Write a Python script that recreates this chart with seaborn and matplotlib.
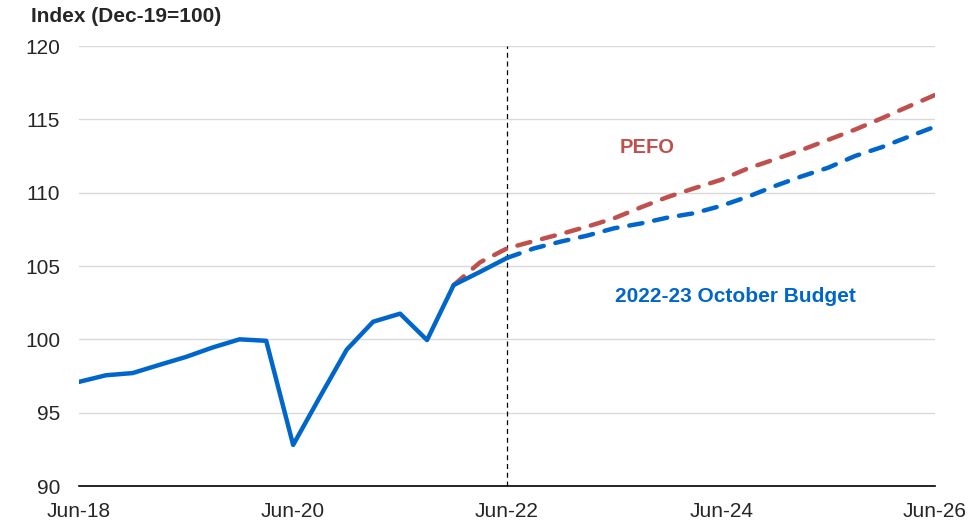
import pandas as pd
import numpy as np
import matplotlib
matplotlib.use("Agg")
import matplotlib.pyplot as plt
import seaborn as sns

# actuals, quarterly Jun-18 .. Jun-22
actual_dates = ["2018-06", "2018-09", "2018-12", "2019-03", "2019-06", "2019-09", "2019-12",
                "2020-03", "2020-06", "2020-09", "2020-12", "2021-03", "2021-06", "2021-09",
                "2021-12", "2022-03", "2022-06"]
actual_vals = [97.1, 97.55, 97.7, 98.25, 98.8, 99.45, 100.0,
               99.9, 92.8, 96.1, 99.3, 101.2, 101.75, 99.95,
               103.7, 104.6, 105.55]

# forecasts Jun-22 .. Jun-26
fc_dates = ["2022-06", "2022-09", "2022-12", "2023-03", "2023-06", "2023-09", "2023-12",
            "2024-03", "2024-06", "2024-09", "2024-12", "2025-03", "2025-06", "2025-09",
            "2025-12", "2026-03", "2026-06"]
pefo_dates = ["2021-12", "2022-03"] + fc_dates
pefo_vals = [103.7, 105.25, 106.2, 106.7, 107.18, 107.68, 108.25, 109.0, 109.7,
             110.3, 110.88, 111.66, 112.27, 112.9, 113.6, 114.3,
             115.07, 115.86, 116.66]
budget_vals = [105.55, 106.2, 106.66, 107.07, 107.57, 107.9, 108.3,
               108.6, 109.1, 109.73, 110.45, 111.1, 111.7, 112.5,
               113.1, 113.8, 114.5]

tick_labels = ["Jun-18", "Jun-20", "Jun-22", "Jun-24", "Jun-26"]

blue = "#0066CC"
red = "#C0504D"

sns.set_style("white")
plt.rcParams['font.family'] = ['Liberation Sans', 'DejaVu Sans']

fig = plt.figure(figsize=(9.74, 5.28), dpi=100)
ax = fig.add_axes([79/974, 1-486/528, (935-79)/974, 440/528])

act = pd.DataFrame({"date": pd.to_datetime(actual_dates), "v": actual_vals})
pefo = pd.DataFrame({"date": pd.to_datetime(pefo_dates), "v": pefo_vals})
bud = pd.DataFrame({"date": pd.to_datetime(fc_dates), "v": budget_vals})

sns.lineplot(data=pefo, x="date", y="v", ax=ax, color=red, lw=3.2)
ax.lines[-1].set_dashes([3.0, 2.7])
ax.lines[-1].set_dash_capstyle("round")
sns.lineplot(data=bud, x="date", y="v", ax=ax, color=blue, lw=3.2)
ax.lines[-1].set_dashes([3.0, 2.7])
ax.lines[-1].set_dash_capstyle("round")
sns.lineplot(data=act, x="date", y="v", ax=ax, color=blue, lw=3.2,
             solid_capstyle="round", solid_joinstyle="round")

ticks = pd.to_datetime(["2018-06", "2020-06", "2022-06", "2024-06", "2026-06"])
ax.axvline(ticks[2], color="black", lw=0.9, ls=(0, (4, 3)), zorder=1)

ax.set_xlim(ticks[0], ticks[-1])
ax.set_ylim(90, 120)
ax.set_yticks(np.arange(90, 121, 5))
ax.set_xticks(ticks)
ax.set_xticklabels(tick_labels)
ax.yaxis.grid(True, color="#D9D9D9", lw=1)
ax.set_axisbelow(True)
for s in ["top", "right", "left"]:
    ax.spines[s].set_visible(False)
ax.spines["bottom"].set_color("black")
ax.spines["bottom"].set_linewidth(1.2)
ax.tick_params(axis="x", direction="out", length=5, width=1, color="black",
               labelsize=15, pad=6.5)
ax.tick_params(axis="y", length=0, labelsize=15, pad=13.5)
ax.set_xlabel("")
ax.set_ylabel("")

fig.text(31/974, 1-16/528, "Index (Dec-19=100)", fontsize=15, fontweight="bold",
         va="center", ha="left")
ax.text(pd.Timestamp("2023-09-22"), 113.05, "PEFO", color=red, fontsize=14.5,
        fontweight="bold", ha="center", va="center")
ax.text(pd.Timestamp("2024-07-20"), 102.9, "2022-23 October Budget", color=blue,
        fontsize=15, fontweight="bold", ha="center", va="center")

fig.savefig("out.png", dpi=100)
